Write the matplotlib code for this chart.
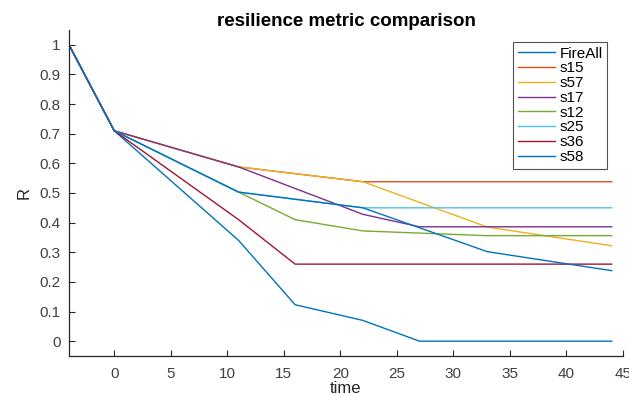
import matplotlib
matplotlib.use("Agg")
import matplotlib.pyplot as plt

plt.rcParams['font.family'] = ['Liberation Sans', 'DejaVu Sans']

labels = ["FireAll", "s15", "s57", "s17", "s12", "s25", "s36", "s58"]
colors = ["#0072BD", "#D95319", "#EDB120", "#7E2F8E", "#77AC30", "#4DBEEE", "#A2142F", "#0072BD"]

t_fireall = [-4, 0, 11, 16, 22, 27, 44]
r_fireall = [1.0, 0.71, 0.34, 0.123, 0.07, 0.0, 0.0]

t_s15 = [-4, 0, 11, 22, 44]
r_s15 = [1.0, 0.71, 0.588, 0.538, 0.538]

t_s57 = [-4, 0, 11, 22, 33, 44]
r_s57 = [1.0, 0.71, 0.588, 0.538, 0.385, 0.322]

t_s17 = [-4, 0, 11, 22, 27, 44]
r_s17 = [1.0, 0.71, 0.588, 0.428, 0.386, 0.386]

t_s12 = [-4, 0, 11, 16, 22, 33, 44]
r_s12 = [1.0, 0.71, 0.503, 0.41, 0.372, 0.356, 0.356]

t_s25 = [-4, 0, 11, 22, 44]
r_s25 = [1.0, 0.71, 0.503, 0.45, 0.45]

t_s36 = [-4, 0, 11, 16, 44]
r_s36 = [1.0, 0.71, 0.41, 0.26, 0.26]

t_s58 = [-4, 0, 11, 22, 33, 44]
r_s58 = [1.0, 0.71, 0.503, 0.45, 0.302, 0.238]

series = [(t_fireall, r_fireall), (t_s15, r_s15), (t_s57, r_s57), (t_s17, r_s17),
          (t_s12, r_s12), (t_s25, r_s25), (t_s36, r_s36), (t_s58, r_s58)]

xticks = [0, 5, 10, 15, 20, 25, 30, 35, 40, 45]
yticks = [0, 0.1, 0.2, 0.3, 0.4, 0.5, 0.6, 0.7, 0.8, 0.9, 1]

fig = plt.figure(figsize=(6.29, 3.96), dpi=100)
ax = fig.add_axes([69/629, 1-356/396, (623-69)/629, (356-30)/396])

for (t, r), lab, c in zip(series, labels, colors):
    ax.plot(t, r, color=c, lw=1.0, label=lab)

ax.set_xlim(-4, 45)
ax.set_ylim(-0.05, 1.05)
ax.set_xticks(xticks)
ax.set_xticklabels([str(v) for v in xticks])
ax.set_yticks(yticks)
ax.set_yticklabels(["0" if v == 0 else ("1" if v == 1 else f"{v:.1f}") for v in yticks])

ax.spines['top'].set_visible(False)
ax.spines['right'].set_visible(False)
for s in ['left', 'bottom']:
    ax.spines[s].set_color('#262626')
    ax.spines[s].set_linewidth(0.9)
ax.tick_params(direction='in', length=4, width=0.8, colors='#262626',
               labelcolor='#404040', labelsize=11)
ax.tick_params(axis='x', pad=8)
ax.tick_params(axis='y', pad=6)

ax.set_xlabel("time", fontsize=12, color='#262626', labelpad=0)
ax.set_ylabel("R", fontsize=12, color='#262626', labelpad=6)
ax.set_title("resilience metric comparison", fontsize=13.5, fontweight='bold', pad=3)

leg = ax.legend(loc='upper right', bbox_to_anchor=(607/629, 1-42/396),
                bbox_transform=fig.transFigure, frameon=True, fancybox=False,
                fontsize=11, handlelength=2.4, handletextpad=0.3,
                labelspacing=0.05, borderpad=0.3, borderaxespad=0)
leg.get_frame().set_edgecolor('#262626')
leg.get_frame().set_linewidth(0.8)

fig.savefig("out.png", dpi=100)
